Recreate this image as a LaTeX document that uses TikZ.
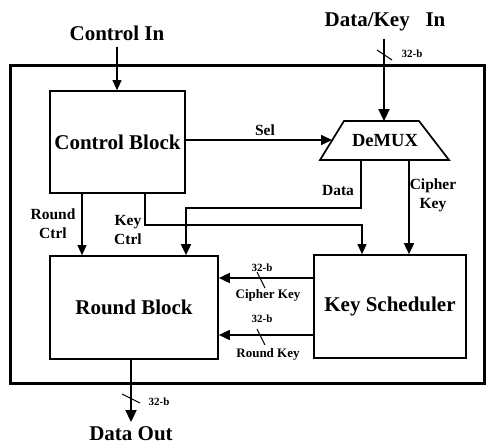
\documentclass[tikz,border=0pt]{standalone}
\usepackage{fontspec}
\setmainfont{Liberation Serif}
\usetikzlibrary{arrows.meta}
\begin{document}
\begin{tikzpicture}[x=1pt,y=-1pt,
  blk/.style={draw,line width=1.7pt,minimum width=#1,inner sep=0pt,font=\fontsize{21}{23}\selectfont\bfseries},
  big/.style={font=\fontsize{21}{23}\selectfont\bfseries,inner sep=1pt},
  lbl/.style={font=\fontsize{15.5}{19}\selectfont\bfseries,inner sep=0pt,align=center},
  sml/.style={font=\fontsize{13}{15}\selectfont\bfseries,inner sep=0pt},
  tiny/.style={font=\fontsize{11}{13}\selectfont\bfseries,inner sep=0pt},
  thinarr/.style={line width=1.1pt,-{Triangle[length=10pt,width=9pt]}},
  arr/.style={line width=1.8pt,-{Triangle[length=11pt,width=10pt]}},
  thickarr/.style={line width=2.3pt,-{Triangle[length=12pt,width=11pt]}},
  slash/.style={line width=1.1pt}]
\useasboundingbox (0,0) rectangle (490,444);
% frame
\draw[line width=3pt] (10,66) rectangle (484,383);
% blocks
\node[blk=135pt,minimum height=102pt] (cb) at (117.5,142) {Control Block};
\node[blk=168pt,minimum height=103pt] (rb) at (134,307.5) {Round Block};
\node[blk=152pt,minimum height=103pt] (ks) at (390,306.5) {Key Scheduler};
% demux
\coordinate (dtl) at (344,121);
\coordinate (dtr) at (419,121);
\coordinate (dbr) at (449,160);
\coordinate (dbl) at (320,160);
\draw[line width=1.7pt] (dtl) -- (dtr) -- (dbr) -- (dbl) -- cycle;
\node[font=\fontsize{18.5}{20}\selectfont\bfseries] (dm) at (385,141) {DeMUX};
\coordinate (dmin) at (384,121);
\coordinate (dsel) at (332,140);
\coordinate (ddata) at (361,160);
\coordinate (dkey) at (409,160);
% external labels
\node[big] (ci) at (117,33) {Control In};
\node[big] (dki) at (385,22) {Data/Key\hspace{0.5em} In};
\node[big] (dout) at (131,434) {Data Out};
\coordinate (doutend) at (131,422);
% inputs
\draw[thinarr] (117,47) -- (cb.north -| 117,0);
\draw[thickarr] (dmin |- 0,39) -- (dmin);
\draw[slash] (377,50) -- (392,60);
\node[tiny] (b1) at (412,54) {32-b};
% Sel
\draw[arr] (cb.east |- dsel) -- (dsel);
\node[lbl] (sel) at (265,130) {Sel};
% Data
\draw[arr] (ddata) -- (361,208) -| (rb.north -| 186,0);
\node[lbl] (dlab) at (338,190) {Data};
% Cipher key from demux
\draw[arr] (dkey) -- (dkey |- ks.north);
\node[lbl] (cklab) at (433,195) {Cipher\\Key};
% Key Ctrl
\draw[thinarr] (cb.south -| 145,0) |- (362,225) -- (ks.north -| 362,0);
\node[lbl] (kclab) at (128,230) {Key\\Ctrl};
% Round Ctrl
\draw[thinarr] (cb.south -| 82,0) -- (rb.north -| 82,0);
\node[lbl] (rclab) at (53,224) {Round\\Ctrl};
% between blocks
\draw[arr] (ks.west |- 0,278) -- (rb.east |- 0,278);
\draw[slash] (257,272) -- (265,288);
\node[tiny] (b2) at (262,268) {32-b};
\node[sml] (ck2) at (268,295) {Cipher Key};
\draw[arr] (ks.west |- 0,335) -- (rb.east |- 0,335);
\draw[slash] (257,329) -- (265,345);
\node[tiny] (b3) at (262,319) {32-b};
\node[sml] (rk) at (268,354) {Round Key};
% output
\draw[thickarr] (rb.south -| doutend) -- (doutend);
\draw[slash] (122,394) -- (140,403);
\node[tiny] (b4) at (159,402) {32-b};
\end{tikzpicture}
\end{document}
